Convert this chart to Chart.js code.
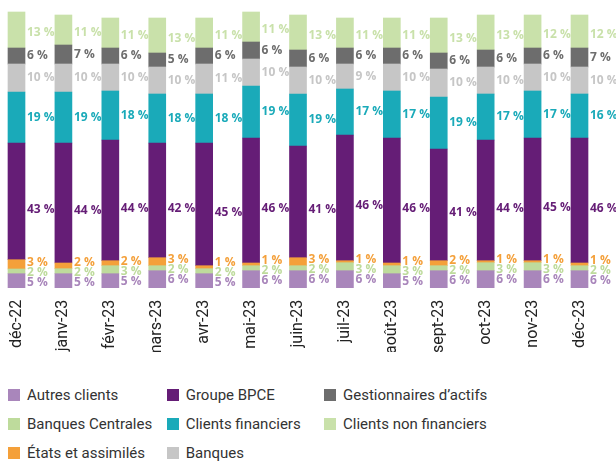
<!DOCTYPE html>
<html lang="fr">
<head>
<meta charset="utf-8">
<script src="https://cdn.jsdelivr.net/npm/chart.js@4.4.1/dist/chart.umd.min.js"></script>
<style>
  html, body { margin: 0; padding: 0; background: #fff; }
  body { width: 616px; height: 465px; position: relative; overflow: hidden; font-family: Roboto, sans-serif; }
  #chart { position: absolute; left: 0; top: 0; }
  .legend {
    position: absolute; left: 8px; top: 381px;
    display: grid;
    grid-template-columns: 158.7px 157.3px auto;
    grid-template-rows: repeat(3, 28.8px);
    grid-auto-flow: column;
  }
  .legend-item { display: flex; align-items: center; font-size: 15px; color: #333; white-space: nowrap; }
  .legend-box { width: 12px; height: 12px; margin-right: 7px; flex: none; }
</style>
</head>
<body>
<canvas id="chart" width="616" height="352"></canvas>
<div class="legend" id="legend"></div>
<script>
// ---- Data ----

const months = ['déc-22', 'janv-23', 'févr-23', 'mars-23', 'avr-23', 'mai-23', 'juin-23',
  'juil-23', 'août-23', 'sept-23', 'oct-23', 'nov-23', 'déc-23'];

// segment sizes (bottom to top of each stack)
const autresClients     = [14, 14, 14, 17, 14, 17, 17, 17, 14, 17, 17, 17, 17];
const banquesCentrales  = [4.7, 5, 8, 5, 5, 5, 5, 8, 8, 5, 8, 8, 5];
const etats             = [9.3, 5.7, 5, 8, 3, 2.7, 8, 2, 2.7, 5, 2, 2, 2.7];
const groupeBPCE        = [116.7, 120, 120.7, 114.7, 122.7, 125, 111.7, 125.7, 125, 111.7, 120.7, 122.7, 125];
const clientsFinanciers = [51, 51, 49, 49, 49, 52, 52, 46, 47, 52, 46, 47, 44];
const banques           = [28, 28, 27, 27, 30, 27, 27, 25, 27, 28, 27, 27, 27];
const gestionnaires     = [16, 19, 16, 14, 16, 17, 17, 16, 16, 16, 17, 16, 19];
const clientsNonFin     = [36, 30, 30, 35, 30, 30, 35, 30, 30, 35, 35, 33, 33];

// share labels printed next to each segment (%)
const pctAutres   = [5, 5, 5, 6, 5, 6, 6, 6, 5, 6, 6, 6, 6];
const pctBC       = [2, 2, 3, 2, 2, 2, 2, 3, 3, 2, 3, 3, 2];
const pctEtats    = [3, 2, 2, 3, 1, 1, 3, 1, 1, 2, 1, 1, 1];
const pctBPCE     = [43, 44, 44, 42, 45, 46, 41, 46, 46, 41, 44, 45, 46];
const pctCF       = [19, 19, 18, 18, 18, 19, 19, 17, 17, 19, 17, 17, 16];
const pctBanques  = [10, 10, 10, 10, 11, 10, 10, 9, 10, 10, 10, 10, 10];
const pctGest     = [6, 7, 6, 5, 6, 6, 6, 6, 6, 6, 6, 6, 7];
const pctCNF      = [13, 11, 11, 13, 11, 11, 13, 11, 11, 13, 13, 12, 12];

const seriesNames = ['Autres clients', 'Banques Centrales', 'États et assimilés', 'Groupe BPCE',
  'Clients financiers', 'Banques', 'Gestionnaires d’actifs', 'Clients non financiers'];
const seriesValues = [autresClients, banquesCentrales, etats, groupeBPCE,
  clientsFinanciers, banques, gestionnaires, clientsNonFin];
const seriesPcts = [pctAutres, pctBC, pctEtats, pctBPCE, pctCF, pctBanques, pctGest, pctCNF];
const seriesColors = ['#a986bb', '#bedb9c', '#f4a03a', '#651d76',
  '#1aaab9', '#c6c6c6', '#6d6d6d', '#c9e1aa'];
// the labels of the big purple block and of the top block sit a bit low
const labelNudge = [0, 0, 0, 8, 0, 0, 0, 3];

// ---- Label spreading (keeps small segment labels from overlapping) ----

function spreadLabels(ys, gap) {
  let groups = ys.map(y => ({ ys: [y], center: y }));
  let merged = true;
  while (merged) {
    merged = false;
    for (let k = 0; k < groups.length - 1; k++) {
      const a = groups[k], b = groups[k + 1];
      const aTop = a.center - (a.ys.length - 1) * gap / 2;
      const bBottom = b.center + (b.ys.length - 1) * gap / 2;
      if (aTop - bBottom < gap) {
        const all = a.ys.concat(b.ys);
        const mean = all.reduce((s, v) => s + v, 0) / all.length;
        groups.splice(k, 2, { ys: all, center: mean });
        merged = true;
        break;
      }
    }
  }
  const out = [];
  groups.forEach(g => {
    const n = g.ys.length;
    for (let j = 0; j < n; j++) out.push(g.center + (n - 1) * gap / 2 - j * gap);
  });
  return out;
}

const barLabels = {
  id: 'barLabels',
  afterDatasetsDraw(chart) {
    const ctx = chart.ctx;
    ctx.save();
    ctx.font = 'bold 12px "Open Sans"';
    ctx.textAlign = 'left';
    ctx.textBaseline = 'middle';
    months.forEach((m, i) => {
      const items = chart.data.datasets.map((ds, d) => {
        const bar = chart.getDatasetMeta(d).data[i];
        return {
          text: seriesPcts[d][i] + ' %',
          color: seriesColors[d],
          x: bar.x + bar.width / 2 + 2,
          y: (bar.y + bar.base) / 2 + labelNudge[d]
        };
      });
      const ys = spreadLabels(items.map(it => it.y), 10);
      items.forEach((it, d) => {
        ctx.fillStyle = it.color;
        ctx.fillText(it.text, it.x, ys[d]);
      });
    });
    ctx.restore();
  }
};

// ---- Chart ----

const datasets = seriesNames.map((name, d) => ({
  label: name,
  data: seriesValues[d],
  backgroundColor: seriesColors[d],
  borderWidth: 0,
  barThickness: 17,
  clip: false
}));

new Chart(document.getElementById('chart'), {
  type: 'bar',
  data: { labels: months, datasets: datasets },
  plugins: [barLabels],
  options: {
    responsive: false,
    animation: false,
    layout: { padding: { top: 7.7, left: 16.5, right: 36.5, bottom: 0 } },
    plugins: {
      legend: { display: false },
      tooltip: { enabled: false }
    },
    scales: {
      x: {
        stacked: true,
        offset: false,
        grid: { display: false, drawTicks: false },
        border: { display: false },
        ticks: {
          autoSkip: false,
          minRotation: 90,
          maxRotation: 90,
          padding: 12,
          color: '#222',
          font: { family: 'Roboto', size: 16 }
        },
        afterFit: scale => { scale.height = 64.3; }
      },
      y: {
        stacked: true,
        display: false,
        min: 0,
        max: 280
      }
    }
  }
});

// ---- Legend (column-major, like the reference) ----

const legendEl = document.getElementById('legend');
seriesNames.forEach((name, d) => {
  const item = document.createElement('div');
  item.className = 'legend-item';
  const box = document.createElement('span');
  box.className = 'legend-box';
  box.style.background = seriesColors[d];
  item.appendChild(box);
  item.appendChild(document.createTextNode(name));
  legendEl.appendChild(item);
});
</script>
</body>
</html>
